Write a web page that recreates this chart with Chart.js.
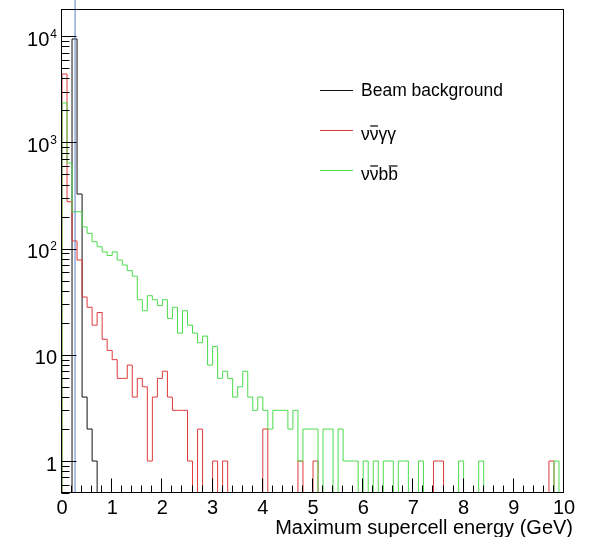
<!DOCTYPE html>
<html>
<head>
<meta charset="utf-8">
<script src="https://cdn.jsdelivr.net/npm/chart.js@4/dist/chart.umd.min.js"></script>
<style>
  html, body { margin: 0; padding: 0; background: #fff; }
  canvas { display: block; }
</style>
</head>
<body>
<canvas id="chart" width="601" height="537"></canvas>
<script>
// histogram: 100 bins of 0.1 GeV from 0 to 10 GeV
const binWidth = 0.1;

const beamBackground = [
  0, 0, 9400, 326, 4, 2, 1, 0, 0, 0,
  0, 0, 0, 0, 0, 0, 0, 0, 0, 0,
  0, 0, 0, 0, 0, 0, 0, 0, 0, 0,
  0, 0, 0, 0, 0, 0, 0, 0, 0, 0,
  0, 0, 0, 0, 0, 0, 0, 0, 0, 0,
  0, 0, 0, 0, 0, 0, 0, 0, 0, 0,
  0, 0, 0, 0, 0, 0, 0, 0, 0, 0,
  0, 0, 0, 0, 0, 0, 0, 0, 0, 0,
  0, 0, 0, 0, 0, 0, 0, 0, 0, 0,
  0, 0, 0, 0, 0, 0, 0, 0, 0, 0,
];

const nunuGammaGamma = [
  4400, 276, 118, 78, 35, 28, 19, 25, 14, 11,
  9, 6, 6, 8, 4, 6, 5, 1, 4, 6,
  7, 4, 3, 3, 3, 1, 0, 2, 0, 0,
  1, 0, 1, 0, 0, 0, 0, 0, 0, 0,
  2, 0, 0, 0, 0, 0, 0, 1, 0, 0,
  1, 0, 0, 0, 0, 0, 0, 0, 0, 0,
  0, 0, 0, 0, 0, 0, 0, 0, 0, 0,
  0, 0, 0, 0, 1, 1, 0, 0, 0, 0,
  0, 0, 0, 0, 0, 0, 0, 0, 0, 0,
  0, 0, 0, 0, 0, 0, 0, 1, 0, 0,
];

const nunuBB = [
  2350, 640, 222, 222, 160, 139, 116, 104, 93, 86,
  93, 78, 70, 62, 55, 33, 26, 36, 33, 29,
  33, 22, 28, 16, 26, 19, 16, 13, 15, 8,
  12, 6, 7, 6, 4, 5, 7, 4, 3, 4,
  3, 2, 3, 3, 3, 2, 3, 1, 2, 2,
  2, 0, 2, 2, 0, 2, 1, 1, 1, 0,
  1, 0, 1, 0, 1, 1, 0, 1, 1, 0,
  0, 1, 0, 0, 0, 0, 0, 0, 0, 1,
  0, 0, 0, 1, 0, 0, 0, 0, 0, 0,
  0, 0, 0, 0, 0, 0, 0, 0, 1, 0,
];

const xTicks = [0, 1, 2, 3, 4, 5, 6, 7, 8, 9, 10];
const yDecades = [1, 10, 100, 1000, 10000];
const cutEnergy = 0.26;
const yMin = 0.5;
const yMax = 18000;

const FONT = '"Liberation Sans", Arial, Helvetica, sans-serif';

// outline of a ROOT-style histogram; empty bins sit on the bottom of the frame
function histPoints(counts) {
  const pts = [{ x: 0, y: yMin }];
  counts.forEach((c, i) => {
    pts.push({ x: +(i * binWidth).toFixed(2), y: c > 0 ? c : yMin });
  });
  const last = counts[counts.length - 1];
  const end = +(counts.length * binWidth).toFixed(2);
  pts.push({ x: end, y: last > 0 ? last : yMin });
  pts.push({ x: end, y: yMin });
  return pts;
}

const legendItems = [
  { color: '#111', parts: [['Beam background', false]] },
  { color: '#e03a3a', parts: [['ν', false], ['ν', true], ['γγ', false]] },
  { color: '#4cdc4c', parts: [['ν', false], ['ν', true], ['b', false], ['b', true]] },
];

const rootFrame = {
  id: 'rootFrame',
  afterDatasetsDraw(chart) {
    const { ctx, chartArea: a, scales: { x, y } } = chart;
    const L = a.left - 0.5, R = a.right - 0.5, T = a.top + 0.5, B = a.bottom - 0.5;
    ctx.save();
    ctx.strokeStyle = '#000';
    ctx.lineWidth = 1;
    ctx.strokeRect(L, T, R - L, B - T);

    // y ticks (inside, left axis)
    ctx.beginPath();
    for (let e = -1; e <= 4; e++) {
      for (let m = 1; m <= 9; m++) {
        const v = m * Math.pow(10, e);
        if (v < yMin || v > yMax) continue;
        const py = Math.round(y.getPixelForValue(v)) + 0.5;
        const len = m === 1 ? 15 : 8;
        ctx.moveTo(L, py);
        ctx.lineTo(L + len, py);
      }
    }
    // x ticks (inside, bottom axis)
    for (let i = 0; i <= 50; i++) {
      const v = i * 0.2;
      const px = Math.round(x.getPixelForValue(v)) - 0.5;
      const len = i % 5 === 0 ? 14 : 7;
      ctx.moveTo(px, B);
      ctx.lineTo(px, B - len);
    }
    ctx.stroke();

    // tick labels
    ctx.fillStyle = '#000';
    ctx.textBaseline = 'alphabetic';
    ctx.font = '20px ' + FONT;
    ctx.textAlign = 'center';
    xTicks.forEach(v => {
      ctx.fillText(String(v), x.getPixelForValue(v), 513.5);
    });

    const rightEdge = 57;
    yDecades.forEach(v => {
      const py = y.getPixelForValue(v);
      const exp = Math.round(Math.log10(v));
      ctx.textAlign = 'right';
      if (exp <= 1) {
        ctx.font = '20px ' + FONT;
        ctx.fillText(String(v), rightEdge, py + 9.7);
      } else {
        ctx.font = '12px ' + FONT;
        const sw = ctx.measureText(String(exp)).width;
        ctx.fillText(String(exp), rightEdge, py + 1.7);
        ctx.font = '20px ' + FONT;
        ctx.fillText('10', rightEdge - sw - 1, py + 9.7);
      }
    });

    // axis title
    ctx.font = '20px ' + FONT;
    ctx.textAlign = 'right';
    ctx.fillText('Maximum supercell energy (GeV)', 573, 533.5);

    // legend
    const rows = [90, 130, 170];
    const baselines = [96, 140, 180];
    ctx.font = '17.5px ' + FONT;
    ctx.textAlign = 'left';
    legendItems.forEach((item, k) => {
      ctx.strokeStyle = item.color;
      ctx.beginPath();
      ctx.moveTo(320, rows[k] + 0.5);
      ctx.lineTo(353, rows[k] + 0.5);
      ctx.stroke();
      let tx = 361;
      ctx.fillStyle = '#000';
      ctx.strokeStyle = '#000';
      item.parts.forEach(([txt, bar]) => {
        const w = ctx.measureText(txt).width;
        ctx.fillText(txt, tx, baselines[k]);
        if (bar) {
          ctx.beginPath();
          ctx.lineWidth = 1.2;
          ctx.moveTo(tx + 0.5, baselines[k] - 14);
          ctx.lineTo(tx + w - 0.5, baselines[k] - 14);
          ctx.stroke();
          ctx.lineWidth = 1;
        }
        tx += w;
      });
    });
    ctx.restore();
  }
};

const histStyle = {
  stepped: true,
  borderWidth: 1,
  pointRadius: 0,
  fill: false,
  tension: 0,
};

new Chart(document.getElementById('chart'), {
  type: 'line',
  data: {
    datasets: [
      { label: 'cut', data: [{ x: cutEnergy, y: yMin }, { x: cutEnergy, y: 1e6 }],
        borderColor: '#5b7fc8', borderWidth: 1, pointRadius: 0, clip: false, order: 0 },
      { label: 'Beam background', data: histPoints(beamBackground),
        borderColor: '#111', order: 3, ...histStyle },
      { label: 'nunugammagamma', data: histPoints(nunuGammaGamma),
        borderColor: '#e03a3a', order: 2, ...histStyle },
      { label: 'nunubb', data: histPoints(nunuBB),
        borderColor: '#4cdc4c', order: 1, ...histStyle },
    ],
  },
  options: {
    responsive: false,
    devicePixelRatio: 1,
    animation: false,
    parsing: true,
    layout: { padding: { left: 62, right: 37, top: 9, bottom: 44 } },
    scales: {
      x: { type: 'linear', min: 0, max: 10, display: false },
      y: { type: 'logarithmic', min: yMin, max: yMax, display: false },
    },
    plugins: {
      legend: { display: false },
      tooltip: { enabled: false },
    },
  },
  plugins: [rootFrame],
});
</script>
</body>
</html>
